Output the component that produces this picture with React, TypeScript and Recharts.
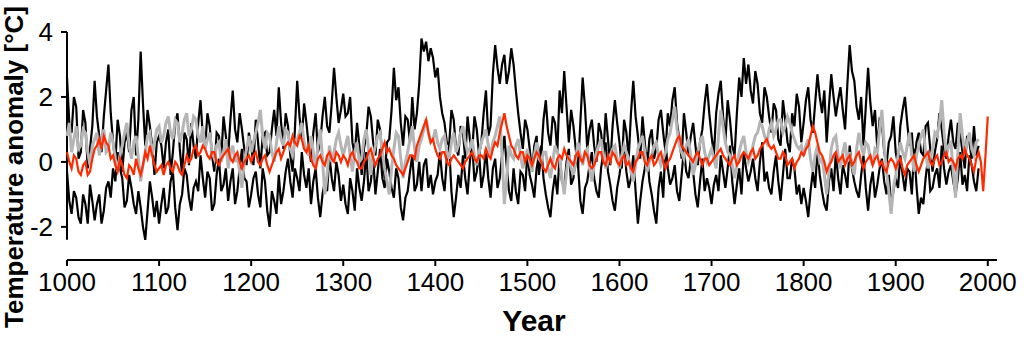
import { Line, LineChart, ReferenceLine, XAxis, YAxis } from 'recharts';

// Five-year steps, 1000–2000, plus in-between readings for each series.
// All values.
const years = Array.from({ length: 201 }, (_, i) => 1000 + i * 5);

const blackHi = [
  2.6, 0.9, 1.7, 0.3, 1.2, 0.4, 2.5, 0.8, 1.4, 3.0, 0.6, 1.3, -0.3, 0.9, 1.6, 0.2, 3.4, 0.5, 1.1, -0.4,
  0.8, -0.2, 1.0, 0.3, 1.5, -0.4, 0.7, 1.2, 0.1, 1.9, 0.4, 1.1, -0.3, 0.8, 1.4, 0.2, 2.2, 0.6, 1.0, -0.1,
  0.5, 1.3, -0.2, 0.9, 0.3, 1.6, 2.3, 0.4, 1.1, -0.3, 2.5, 0.7, 1.2, 0.0, 1.5, 0.6, 2.0, 0.9, 2.9, 1.2,
  2.1, 1.5, 0.6, 1.2, -0.4, 0.8, 1.4, 0.2, 1.0, -0.5, 0.7, 2.9, 2.3, 0.5, 1.3, 2.0, 1.5, 3.8, 3.7, 3.5,
  2.6, 2.0, 1.2, 0.5, 1.3, 0.2, 0.9, 1.4, 0.3, 1.0, 0.6, 2.2, 1.1, 3.6, 2.4, 3.3, 2.8, 3.0, 1.5, 0.4,
  1.0, -0.3, 0.8, 0.2, 1.9, 0.5, 1.2, 2.2, 2.8, 0.6, 1.1, -0.2, 2.6, 0.4, 1.3, 0.0, 0.9, 1.5, -0.1, 1.9,
  0.6, 1.3, 0.1, 2.5, 0.8, 1.4, -0.2, 1.0, 0.4, 1.6, 0.3, 1.1, 2.3, 0.7, 1.5, 0.2, 1.2, -0.1, 1.0, 2.4,
  0.8, 1.5, 2.5, 0.6, 1.3, 0.2, 2.6, 3.2, 3.0, 1.8, 2.4, 1.2, 2.0, 0.9, 1.6, 0.5, 1.3, 0.3, 1.1, 1.7,
  1.2, 2.3, 0.9, 2.7, 1.5, 0.6, 2.7, 1.4, 2.3, 1.0, 3.6, 2.5, 1.3, 0.5, 2.9, 1.1, 0.4, 1.2, -0.1, 0.8,
  0.3, 1.1, 2.0, 0.5, -0.2, 0.9, 0.2, 1.2, -0.3, 0.7, 1.0, 0.1, 1.3, 0.4, 0.9, -0.2, 0.6, 1.1, 0.5, null,
  null,
];
const blackHiMid = [
  1.2, 2.0, 0.1, 1.6, -0.2, 1.1, 1.4, 0.3, 2.2, 1.5, 0.0, 0.8, 0.6, 0.3, 2.0, 1.3, 1.8, 1.6, 0.5, 0.6,
  0.5, 0.6, -0.4, 1.2, 0.4, 0.9, -0.1, 0.5, 1.2, 0.8, 1.5, 0.2, 0.9, 0.1, 0.8, 1.3, 1.0, 1.5, 0.4, 0.9,
  -0.1, 0.6, 0.8, 0.2, 1.0, 0.8, 1.2, 1.5, 0.2, 1.0, 1.4, 1.8, 0.5, 0.9, 0.3, 1.4, 1.1, 1.8, 2.0, 1.6,
  1.4, 2.0, 0.2, 0.5, 0.4, 1.7, 0.6, 1.3, 0.2, 0.6, 1.6, 1.9, 1.2, 1.4, 0.6, 1.0, 2.4, 3.4, 3.1, 3.2,
  2.9, 1.5, 0.6, 1.6, 0.4, 1.1, 0.1, 0.7, 1.4, 0.2, 1.5, 0.8, 2.7, 2.9, 3.0, 2.4, 3.5, 2.2, 0.9, 1.3,
  0.4, 0.5, -0.4, 1.3, 0.9, 1.4, 0.3, 1.5, 1.7, 1.6, 0.4, 1.2, 1.7, 1.0, 0.5, 1.2, 0.2, 0.7, 1.1, 1.2,
  -0.2, 0.9, 1.5, 1.4, 0.1, 0.6, 0.7, 0.1, 1.3, 0.9, 1.5, 1.9, 1.2, 0.1, 0.9, 0.8, 0.5, 0.6, 1.8, 1.5,
  0.2, 2.1, 1.4, 1.9, 0.5, 1.5, 2.0, 2.4, 2.2, 2.8, 1.5, 2.3, 1.4, 1.8, 0.7, 1.9, 0.6, 1.5, 2.1, 0.6,
  1.9, 1.3, 1.8, 2.0, 2.2, 1.7, 2.0, 1.9, 1.6, 2.4, 2.8, 1.7, 2.0, 1.7, 1.8, 1.6, 1.3, 0.3, 0.6, 1.4,
  -0.1, 1.6, 1.2, 0.9, 0.6, 0.3, 1.1, 0.4, 0.3, 1.5, 0.4, 0.8, 0.6, 1.2, 0.3, 0.8, 0.1, 0.2, null, null,
];

const blackLo = [
  -0.3, -1.6, -1.1, -1.9, -1.3, -0.7, -1.8, -1.0, -1.5, -0.6, -0.2, 0.3, -0.5, -1.2, -0.8, -1.6, -1.4, -2.4, -0.6, -1.7,
  -1.9, -0.8, -1.4, -0.3, -2.1, -1.0, -0.4, -1.5, -0.6, 0.2, -1.1, -0.5, -1.3, 0.1, -0.7, -1.2, -0.2, -0.9, 0.4, -0.6,
  -1.0, -0.3, -1.4, -0.6, -2.0, -1.2, -0.4, -0.9, 0.1, -1.1, -0.5, 0.3, -0.8, -1.3, -0.2, -1.7, -0.6, 0.2, -0.9, -0.4,
  -0.7, -1.6, -0.9, -0.2, -1.2, 0.3, -0.6, -1.0, 0.4, -0.8, -0.3, -1.1, -0.5, -1.8, -0.9, 0.2, -0.7, -0.9, 0.1, -0.4,
  -0.6, 0.3, -0.9, 0.5, -1.7, -0.4, 0.2, -1.0, 0.6, -0.3, -0.8, 0.4, -1.1, 0.1, -0.5, 0.8, -0.9, -0.2, -1.3, -0.4,
  0.3, -0.7, -0.2, 0.5, -1.0, -1.7, -0.4, 0.2, -0.8, 0.4, -0.5, -0.1, -1.6, -0.6, 0.3, -0.9, -0.2, 0.6, -0.7, -1.5,
  -0.4, 0.5, -0.8, 0.2, -1.9, -0.6, 0.3, -1.0, -1.9, -0.3, 0.6, -0.7, -0.1, -1.2, 0.4, -0.5, -0.3, -1.4, 0.1, -0.5,
  -1.3, -0.4, 0.2, -0.8, 0.5, -1.3, -0.2, 0.3, -0.6, 0.1, -0.9, 0.6, -0.3, -1.0, 0.2, -1.2, 0.4, -0.5, -0.2, -0.7,
  -0.8, -1.7, -0.3, 0.4, -0.9, -1.5, -0.2, 0.3, -1.0, -0.4, 0.5, -0.6, -1.1, 0.2, -1.5, -0.3, -0.7, 0.1, -1.0, -1.3,
  -0.5, 0.2, -0.9, -0.3, 0.4, -1.6, -1.3, 0.1, -0.8, -0.2, 0.5, -0.7, -0.1, -1.0, 0.3, -0.4, 0.2, -0.6, -0.2, null,
  null,
];
const blackLoMid = [
  -1.2, -0.9, -1.7, -1.0, -1.9, -1.2, -1.3, -1.9, -0.8, -1.1, -0.6, -0.2, -1.4, -0.4, -1.3, -0.9, -2.0, -1.5, -1.1, -1.2,
  -1.3, -1.6, -0.6, -1.4, -1.3, -0.2, -1.1, -0.8, -0.9, -0.5, -0.3, -1.5, -0.4, -0.9, -0.2, -0.6, -1.3, -0.2, -0.5, -1.4,
  -0.5, -1.0, -0.2, -1.5, -0.9, -1.6, -1.3, -0.3, -0.6, -0.2, -0.9, -0.4, -0.2, -0.6, -1.1, -1.0, -0.9, -0.5, 0.0, -1.2,
  -1.3, -0.5, -1.5, -0.8, -0.6, -0.9, 0.1, -0.3, -0.5, 0.1, -0.8, -0.2, -1.4, -1.1, -0.3, -0.9, 0.0, -0.1, -0.8, -1.0,
  -0.4, -0.5, 0.1, -0.9, -1.1, -0.8, -0.5, 0.0, -0.6, 0.3, -0.4, -0.5, -0.2, -0.8, 0.2, -0.1, -1.2, -0.9, -0.3, -0.9,
  -0.4, -1.1, 0.2, -0.5, -1.4, -0.9, -1.0, -0.6, 0.0, -0.7, 0.2, -1.2, -0.8, -0.1, -0.5, -1.1, 0.3, -0.3, -1.2, -0.8,
  0.1, -0.3, -0.5, -0.9, -1.2, -0.2, -0.6, -1.5, -0.8, -1.1, -0.2, -0.5, -0.9, -0.4, -0.3, 0.1, -1.0, -0.6, -0.9, -0.8,
  -0.7, -0.9, -0.3, -0.2, -0.6, -0.7, -1.0, -0.2, -0.3, -0.5, 0.0, -0.6, -0.8, -0.3, -0.6, -0.4, -0.5, 0.1, -1.0, -1.3,
  -1.2, -0.9, -0.8, -0.4, -1.3, -0.6, -0.9, -0.5, -0.1, -0.8, -0.2, -0.9, -0.4, -0.8, -0.7, -1.1, -0.2, -0.6, -0.4, -0.9,
  -0.8, -0.4, -0.2, -1.0, -0.7, -1.1, -0.5, -0.9, -0.4, -0.8, -0.2, -0.3, -0.6, -0.5, -0.7, -0.9, -0.1, -0.9, null, null,
];

const grayRecon = [
  0.8, 0.3, 1.1, 0.5, 0.9, -0.1, 0.7, 0.2, 1.0, 0.4, 0.6, -0.3, 0.5, 1.2, 0.1, 0.8, -0.6, 0.3, 0.9, 0.6,
  1.1, 0.8, 1.4, 0.7, 1.2, 0.9, 1.5, 1.0, 1.3, 0.6, 0.4, 0.9, 0.1, 0.6, 0.3, -0.2, 0.5, 0.2, -0.8, 0.4,
  0.3, 0.9, 1.6, 0.4, 0.8, 0.0, 1.1, 0.5, 0.9, 0.2, 0.7, 1.2, 0.4, 0.8, -0.2, 1.0, -1.0, 0.5, 0.3, 0.9,
  0.2, 0.8, -0.3, 0.6, 0.1, 1.0, -0.4, 0.5, 0.9, -0.2, -1.0, 0.4, 0.8, -0.5, 0.3, 1.1, 0.0, 0.7, 1.3, 0.6,
  1.0, 0.4, 0.8, 0.1, 0.9, 0.5, 1.1, 0.3, 0.7, -0.1, 0.6, 1.0, 0.2, 0.8, 1.4, -1.3, 0.5, 0.1, 0.7, -0.2,
  0.4, -0.3, 0.6, 0.0, 0.3, -0.5, 0.5, 0.1, -1.0, 0.2, -0.4, 0.6, -0.1, 0.4, -0.6, 0.3, 0.7, -0.2, 0.2, 0.5,
  -0.2, 0.5, 0.1, -0.6, 0.4, 0.8, -0.3, 0.2, 0.6, -0.1, 0.3, 0.9, 1.7, 0.5, 0.1, 0.7, -0.4, 0.3, 0.8, 0.0,
  0.4, -0.2, 1.6, 0.6, 0.2, -0.5, 0.3, 0.8, 0.0, 0.5, 0.9, 1.1, 0.6, 1.2, 1.0, 1.3, 1.1, 1.2, 0.7, 0.4,
  0.2, 0.7, -0.3, 0.5, 0.1, -1.0, 0.4, 0.8, -0.2, 0.6, 0.3, -0.4, 0.9, 0.2, 0.5, -0.1, 0.3, 1.6, -0.3, -1.6,
  -0.4, 0.6, 0.1, 0.9, -0.3, 0.5, 1.0, -0.2, 0.4, 0.8, 1.9, 0.2, 0.6, -1.1, 1.5, 0.3, 0.9, 0.2, 0.7, null,
  null,
];
const grayMid = [
  1.2, 0.7, 0.4, 1.0, 0.3, 0.5, 0.9, 0.6, 0.3, 0.9, 0.1, 0.2, 0.9, 0.5, 0.6, 0.1, -0.1, 0.8, 0.2, 1.0,
  0.6, 1.2, 0.9, 1.3, 0.6, 1.3, 0.8, 1.4, 0.8, 1.1, 0.7, 0.3, 0.5, 0.0, 0.7, 0.3, 0.0, -0.3, 0.0, 0.8,
  0.6, 1.2, 0.8, 0.9, 0.3, 0.6, 0.7, 1.0, 0.4, 0.6, 0.9, 0.6, 0.2, 0.3, 0.5, 0.1, -0.4, 0.0, 0.7, 0.5,
  0.5, 0.2, 0.3, 0.0, 0.7, 0.4, 0.2, 0.8, 0.3, -0.6, -0.2, 0.9, 0.1, 0.0, 0.7, 0.4, 0.5, 1.0, 0.9, 0.7,
  0.6, 0.7, 0.3, 0.6, 0.3, 0.9, 0.6, 0.4, 0.2, 0.3, 0.8, 0.5, 0.6, 1.1, 0.2, -0.5, 0.2, 0.5, 0.2, 0.1,
  0.0, 0.2, 0.1, 0.3, -0.2, 0.0, 0.3, -0.5, -0.3, -0.2, 0.1, 0.2, 0.3, -0.2, -0.1, 0.5, 0.2, 0.1, 0.4, 0.1,
  0.2, 0.3, -0.3, -0.1, 0.6, 0.3, 0.0, 0.5, 0.2, 0.1, 0.7, 1.3, 1.0, 0.3, 0.5, 0.2, -0.1, 0.6, 0.3, 0.2,
  0.1, 0.8, 1.1, 0.3, -0.1, -0.1, 0.6, 0.3, 0.2, 0.8, 1.2, 0.8, 1.0, 0.8, 1.3, 0.9, 1.4, 0.9, 0.5, 0.5,
  0.5, 0.1, 0.2, 0.0, -0.4, -0.3, 0.7, 0.2, 0.3, 0.0, -0.1, 0.4, 0.5, 0.6, 0.1, 0.4, 1.0, 0.5, -0.9, -0.8,
  0.2, 0.3, 0.5, 0.2, 0.2, 0.8, 0.3, 0.1, 0.9, 1.2, 0.9, 0.5, -0.3, 0.3, 0.8, 0.6, 0.4, 0.6, null, null,
];

const redRecon = [
  0.3, -0.2, 0.1, -0.4, 0.0, -0.3, 0.4, 0.7, 0.8, 0.5, 0.2, -0.3, -0.1, -0.5, -0.2, 0.1, -0.4, 0.3, 0.5, -0.1,
  -0.2, -0.4, 0.0, -0.3, -0.1, -0.4, 0.2, 0.1, 0.5, 0.3, 0.4, 0.1, 0.3, -0.1, 0.2, 0.4, 0.0, 0.3, -0.2, 0.1,
  0.0, 0.3, -0.1, 0.2, -0.3, 0.1, 0.4, 0.3, 0.6, 0.8, 0.5, 0.7, 0.3, 0.1, -0.2, 0.2, -0.1, 0.3, 0.0, 0.2,
  0.2, -0.1, 0.3, 0.0, -0.2, 0.1, 0.4, -0.1, 0.2, 0.6, 0.4, 0.1, -0.2, -0.4, 0.0, 0.2, 0.5, 0.9, 1.3, 0.6,
  0.4, 0.1, 0.3, -0.1, 0.2, 0.0, -0.2, 0.1, 0.3, 0.0, 0.2, 0.4, 0.1, 0.6, 0.9, 1.5, 0.8, 0.4, 0.1, 0.3,
  0.2, -0.1, 0.3, 0.0, -0.3, 0.1, -0.2, 0.2, 0.4, 0.1, -0.1, 0.3, 0.0, 0.2, -0.2, 0.1, 0.3, -0.1, 0.0, 0.2,
  -0.1, 0.2, 0.0, -0.3, 0.1, 0.3, -0.1, 0.2, 0.0, 0.3, -0.2, 0.1, 0.5, 0.8, 0.4, 0.2, 0.0, 0.3, -0.1, 0.1,
  0.0, 0.2, 0.4, 0.1, -0.1, 0.2, 0.0, 0.3, 0.1, 0.4, 0.2, 0.5, 0.7, 0.4, 0.3, 0.1, 0.2, 0.0, -0.2, 0.1,
  0.2, 0.5, 1.1, 0.6, 0.2, -0.3, 0.0, 0.3, 0.1, -0.1, 0.2, 0.0, 0.3, -0.2, 0.1, -0.1, 0.2, 0.0, -0.3, 0.1,
  -0.2, 0.1, -0.4, 0.0, 0.2, -0.3, 0.1, 0.3, -0.1, 0.2, 0.0, 0.3, 0.1, -0.2, 0.2, 0.4, 0.1, -0.3, 0.3, -0.9,
  1.4,
];
const redMid = [
  0.0, 0.2, -0.3, -0.1, -0.4, 0.1, 0.5, 0.4, 0.6, 0.1, -0.1, 0.1, -0.4, -0.1, -0.4, -0.2, -0.1, 0.1, 0.2, -0.3,
  -0.1, -0.1, -0.2, 0.0, -0.3, -0.1, 0.0, 0.4, 0.2, 0.5, 0.2, 0.3, 0.0, 0.1, 0.3, 0.1, 0.2, 0.0, 0.0, 0.2,
  0.2, 0.0, 0.1, -0.1, -0.1, 0.3, 0.1, 0.5, 0.5, 0.6, 0.8, 0.4, 0.5, -0.1, 0.1, 0.0, 0.2, 0.1, 0.3, 0.0,
  0.1, 0.2, 0.1, -0.2, 0.0, 0.3, 0.1, 0.1, 0.4, 0.3, 0.2, -0.1, -0.3, -0.2, 0.2, 0.1, 0.7, 1.1, 0.9, 0.7,
  0.2, 0.3, 0.0, 0.1, 0.1, -0.1, 0.0, 0.2, 0.1, 0.2, 0.1, 0.2, 0.4, 0.5, 1.2, 1.1, 0.5, 0.2, 0.3, 0.0,
  0.1, 0.1, 0.2, -0.2, -0.1, -0.1, 0.1, 0.1, 0.2, 0.0, 0.2, 0.1, 0.3, -0.1, -0.1, 0.3, 0.0, 0.2, 0.3, 0.0,
  0.1, -0.1, -0.2, 0.0, 0.3, 0.0, 0.1, -0.1, 0.2, 0.0, 0.0, 0.3, 0.7, 0.5, 0.3, 0.1, 0.2, 0.1, 0.1, -0.1,
  0.1, 0.3, 0.2, 0.0, 0.1, -0.1, 0.2, 0.2, 0.3, 0.1, 0.4, 0.6, 0.5, 0.5, 0.1, 0.3, -0.1, 0.1, 0.0, 0.3,
  0.4, 0.8, 0.9, 0.3, 0.0, -0.1, 0.2, 0.0, 0.2, 0.1, -0.1, 0.2, 0.0, 0.0, 0.2, 0.1, -0.1, -0.2, 0.0, 0.0,
  0.0, -0.2, -0.1, 0.1, -0.1, -0.1, 0.2, 0.0, 0.1, -0.1, 0.2, 0.0, 0.0, 0.1, 0.1, 0.2, -0.1, 0.1, 0.0, 0.2,
];

const xTicks = [1000, 1100, 1200, 1300, 1400, 1500, 1600, 1700, 1800, 1900, 2000];
const yTicks = [-2, 0, 2, 4];

// main reading at each 5-year mark, followed by the reading half-way to the next one
const weave = (main: (number | null)[], mid: (number | null)[]) =>
  main.flatMap((v, i) =>
    i < mid.length ? [{ year: years[i], v }, { year: years[i] + 2.5, v: mid[i] }] : [{ year: years[i], v }],
  );

const hiData = weave(blackHi, blackHiMid);
const loData = weave(blackLo, blackLoMid);
const grayData = weave(grayRecon, grayMid);
const redData = weave(redRecon, redMid);

const FONT = '"Liberation Sans", Arial, Helvetica, sans-serif';
const tickStyle = { fontSize: 26, fontFamily: FONT, fill: '#000' };

// R-style titles, drawn as plain svg text
const YTitle = () => (
  <text
    transform="translate(23,167) rotate(-90)"
    textAnchor="middle"
    fontSize={26}
    fontWeight="bold"
    fontFamily={FONT}
    fill="#000"
  >
    Temperature anomaly [°C]
  </text>
);

const XTitle = () => (
  <text x={534} y={331} textAnchor="middle" fontSize={30} fontWeight="bold" fontFamily={FONT} fill="#000">
    Year
  </text>
);

export default function App() {
  return (
    <div style={{ position: 'absolute', left: 0, top: 0, background: '#fff' }}>
      <LineChart width={1024} height={341} data={redData} margin={{ top: 32, right: 27, bottom: 0, left: 0 }}>
        <XAxis
          dataKey="year"
          type="number"
          domain={[1000, 2010]}
          ticks={xTicks}
          interval={0}
          height={81}
          tick={tickStyle}
          tickSize={6}
          tickMargin={7}
          axisLine={{ stroke: '#000', strokeWidth: 2 }}
          tickLine={{ stroke: '#000', strokeWidth: 2 }}
          label={<XTitle />}
        />
        <YAxis
          type="number"
          domain={[-3.02, 4]}
          ticks={yTicks}
          interval={0}
          width={67}
          tick={tickStyle}
          tickSize={6}
          tickMargin={8}
          axisLine={false}
          tickLine={{ stroke: '#000', strokeWidth: 2 }}
          label={<YTitle />}
        />
        {/* detached y axis line, spanning only the data range */}
        <ReferenceLine
          segment={[
            { x: 1000, y: -2.4 },
            { x: 1000, y: 4 },
          ]}
          stroke="#000"
          strokeWidth={2}
          ifOverflow="visible"
        />
        <Line data={loData} type="linear" dataKey="v" stroke="#000" strokeWidth={2.2} dot={false} isAnimationActive={false} />
        <Line data={hiData} type="linear" dataKey="v" stroke="#000" strokeWidth={2.2} dot={false} isAnimationActive={false} />
        <Line data={grayData} type="linear" dataKey="v" stroke="#b5b5b5" strokeWidth={3} dot={false} isAnimationActive={false} />
        <Line type="linear" dataKey="v" stroke="#ff2a00" strokeWidth={2.2} dot={false} isAnimationActive={false} />
      </LineChart>
    </div>
  );
}
